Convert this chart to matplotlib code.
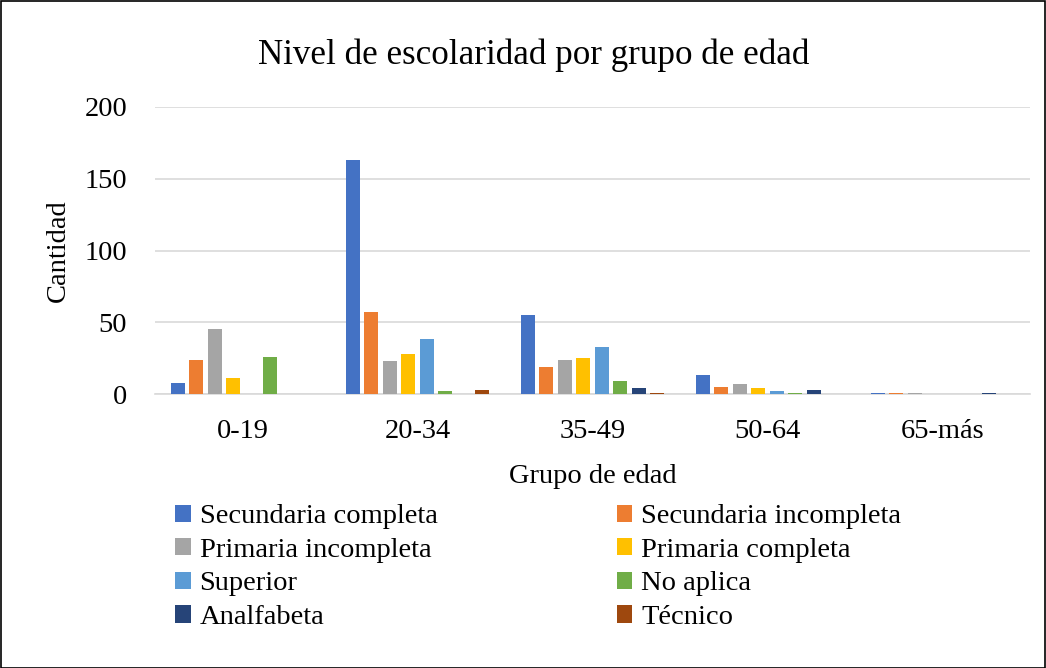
import numpy as np
import matplotlib.pyplot as plt
from matplotlib.patches import Rectangle

plt.rcParams['font.family'] = ['Liberation Serif', 'DejaVu Serif']

# datos
grupos = ['0-19', '20-34', '35-49', '50-64', '65-más']
niveles = ['Secundaria completa', 'Secundaria incompleta', 'Primaria incompleta',
           'Primaria completa', 'Superior', 'No aplica', 'Analfabeta', 'Técnico']
sec_completa = [8, 163, 55, 13, 1]
sec_incompleta = [24, 57, 19, 5, 1]
prim_incompleta = [45, 23, 24, 7, 1]
prim_completa = [11, 28, 25, 4, 0]
superior = [0, 38, 33, 2, 0]
no_aplica = [26, 2, 9, 1, 0]
analfabeta = [0, 0, 4, 3, 1]
tecnico = [0, 3, 1, 0, 0]
series = [sec_completa, sec_incompleta, prim_incompleta, prim_completa,
          superior, no_aplica, analfabeta, tecnico]
colores = ['#4472C4', '#ED7D31', '#A5A5A5', '#FFC000',
           '#5B9BD5', '#70AD47', '#264478', '#9E480E']

W, H = 1046, 668
fig = plt.figure(figsize=(W / 100, H / 100), dpi=100)
ax = fig.add_axes([155 / W, 1 - 394 / H, (1030 - 155) / W, (394 - 107) / H])

x = np.arange(len(grupos))
paso = 0.1057
ancho = 0.082
barras = []
for i, (vals, c) in enumerate(zip(series, colores)):
    b = ax.bar(x + (i - 3.5) * paso, vals, width=ancho, color=c, label=niveles[i],
               linewidth=0, zorder=3)
    barras.append(b)

ax.set_xlim(-0.5, len(grupos) - 0.5)
ax.set_ylim(0, 200)
ax.set_yticks([0, 50, 100, 150, 200])
ax.set_xticks(x)
ax.set_xticklabels(grupos)
ax.tick_params(axis='both', length=0, labelsize=20.5, colors='black')
ax.tick_params(axis='x', pad=18)
ax.tick_params(axis='y', pad=20)
ax.grid(axis='y', color='#d9d9d9', linewidth=1.2, zorder=0)
for s in ['top', 'right', 'left']:
    ax.spines[s].set_visible(False)
ax.spines['bottom'].set_color('#d9d9d9')
ax.spines['bottom'].set_linewidth(1.2)

ax.set_xlabel('Grupo de edad', fontsize=20.5)
ax.xaxis.set_label_coords(0.5, -(470 - 394) / (394 - 107) + 6 / (394 - 107))
ax.set_ylabel('Cantidad', fontsize=20.5)
ax.yaxis.set_label_coords(-84 / (1030 - 155), 0.5)

fig.text(534 / W, 1 - 55 / H, 'Nivel de escolaridad por grupo de edad',
         ha='center', va='center', fontsize=25.2)

orden = [0, 2, 4, 6, 1, 3, 5, 7]
fig.legend([barras[i] for i in orden], [niveles[i] for i in orden],
           loc='upper left', bbox_to_anchor=(164 / W, 1 - 493 / H), ncol=2,
           frameon=False, fontsize=20.5, handlelength=0.55, handleheight=0.55,
           handletextpad=0.3, labelspacing=0.3, columnspacing=6.3,
           borderaxespad=0)

fig.add_artist(Rectangle((0.5 / W, 0.5 / H), 1 - 1.5 / W, 1 - 1.5 / H,
                         transform=fig.transFigure, fill=False,
                         edgecolor='black', linewidth=1.2))

fig.savefig('out.png', dpi=100)
